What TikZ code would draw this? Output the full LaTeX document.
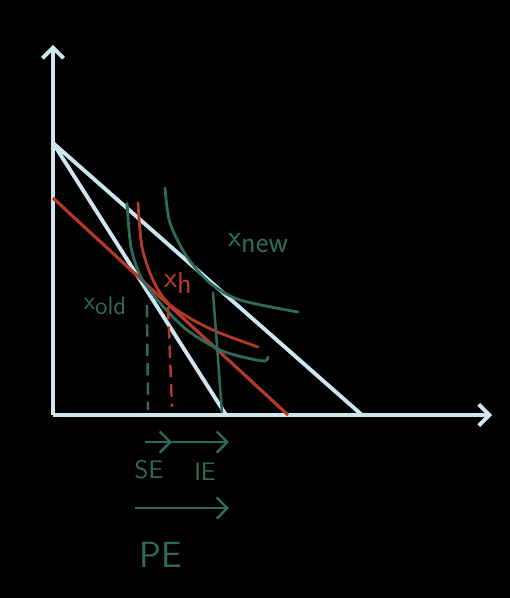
\documentclass[tikz,border=0pt]{standalone}
\usepackage{amsmath}
\usetikzlibrary{arrows.meta}

\definecolor{chalk}{HTML}{CFE6EE}
\definecolor{icgreen}{HTML}{2F6B5C}
\definecolor{icred}{HTML}{B5392A}

\newcommand{\lowsub}[1]{\raisebox{-0.45ex}{#1}}

\tikzset{
  axisline/.style={chalk, line width=2.2pt},
  budget/.style={chalk, line width=2.2pt},
  curvegreen/.style={icgreen, line width=1.6pt, line cap=round},
  curvered/.style={icred, line width=1.6pt, line cap=round},
  effectlabel/.style={icgreen, font=\sffamily\Large}
}

\begin{document}
\begin{tikzpicture}[x=0.02cm, y=-0.02cm, >={Straight Barb[length=6pt,width=12pt]}]
    % Background
    \fill[black] (0,0) rectangle (510,598);
    \useasboundingbox (0,0) rectangle (510,598);

    % Axes
    \coordinate (O) at (53,415);
    \coordinate (ytip) at (53,45);
    \coordinate (xtip) at (492,415);
    \draw[->, axisline] (O) -- (ytip);
    \draw[->, axisline] (O) -- (xtip);

    % Budget lines: old (steep) and new (flatter)
    \coordinate (A) at (53,143);
    \coordinate (Bold) at (226,415);
    \coordinate (Bnew) at (362,415);
    \draw[budget] (A) -- (Bold);
    \draw[budget] (A) -- (Bnew);

    % Compensated budget line
    \coordinate (Hy) at (53,198);
    \coordinate (Hx) at (288,415);
    \draw[icred, line width=1.8pt] (Hy) -- (Hx);

    % Indifference curves
    \draw[curvegreen] plot[smooth] coordinates {(127,203) (131,247) (141,277) (160,303) (187,330) (220,350) (247,358) (265,361) (268,357)};
    \draw[curvered] plot[smooth] coordinates {(138,203) (142,247) (153,280) (168,303) (193,320) (220,333) (258,347)};
    \draw[curvegreen] plot[smooth] coordinates {(165,188) (170,223) (187,257) (210,283) (240,300) (298,312)};

    % Drop lines
    \draw[icgreen, line width=1.4pt, dash pattern=on 7pt off 4pt] (147,305) -- (148,410);
    \draw[icred, line width=1.4pt, dash pattern=on 7pt off 4pt] (168,307) -- (172,407);
    \draw[icgreen, line width=1.4pt] (213,292) -- (222,413);

    % Curve labels
    \node[icgreen, font=\sffamily\Large] (xold) at (105,306) {x\lowsub{old}};
    \node[icred, font=\sffamily\LARGE] (xh) at (178,283) {x\lowsub{h}};
    \node[icgreen, font=\sffamily\LARGE] (xnew) at (258,243) {x\lowsub{new}};

    % Effects
    \coordinate (se0) at (145,442);
    \coordinate (se1) at (172,442);
    \coordinate (ie1) at (229,442);
    \coordinate (pe0) at (135,508);
    \coordinate (pe1) at (229,508);
    \draw[->, icgreen, line width=1.4pt] (se0) -- (se1);
    \draw[->, icgreen, line width=1.4pt] (se1) -- (ie1);
    \draw[->, icgreen, line width=1.4pt] (pe0) -- (pe1);
    \node[effectlabel] (se) at (149,470) {SE};
    \node[effectlabel] (ie) at (205,472) {IE};
    \node[effectlabel, font=\sffamily\huge] (pe) at (161,555) {PE};
\end{tikzpicture}
\end{document}
